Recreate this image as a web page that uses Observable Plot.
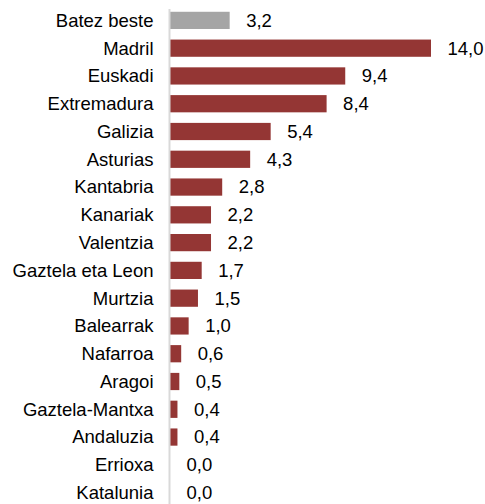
<!DOCTYPE html>
<html>
<head>
<meta charset="utf-8">
<script src="https://cdn.jsdelivr.net/npm/d3@7"></script>
<script src="https://cdn.jsdelivr.net/npm/@observablehq/plot@0.6"></script>
<style>
  html, body { margin: 0; padding: 0; background: #fff; }
  #chart svg { display: block; }
</style>
</head>
<body>
<div id="chart"></div>
<script>
const categories = ["Batez beste", "Madril", "Euskadi", "Extremadura", "Galizia", "Asturias", "Kantabria", "Kanariak", "Valentzia", "Gaztela eta Leon", "Murtzia", "Balearrak", "Nafarroa", "Aragoi", "Gaztela-Mantxa", "Andaluzia", "Errioxa", "Katalunia"];
const values = [3.2, 14.0, 9.4, 8.4, 5.4, 4.3, 2.8, 2.2, 2.2, 1.7, 1.5, 1.0, 0.6, 0.5, 0.4, 0.4, 0.0, 0.0];
const highlight = ["Batez beste"];

const data = categories.map((c, i) => ({ category: c, value: values[i], avg: highlight.includes(c) }));
const fmt = v => v.toFixed(1).replace(".", ",");

const chart = Plot.plot({
  width: 485,
  height: 504,
  marginLeft: 170,
  marginRight: 54,
  marginTop: 9,
  marginBottom: 0,
  style: { fontFamily: "'Liberation Sans', Arial, sans-serif", fontSize: "18.5px", color: "#000", background: "#fff" },
  x: { domain: [0, 14], axis: null },
  y: { domain: categories, paddingInner: 0.38, paddingOuter: 0.1, round: false, label: null },
  marks: [
    Plot.barX(data, { y: "category", x: "value", fill: d => d.avg ? "#a5a5a5" : "#943634" }),
    Plot.ruleX([0], { stroke: "#d9d9d9", strokeWidth: 2, dx: -1 }),
    Plot.text(data, { y: "category", x: "value", text: d => fmt(d.value), textAnchor: "start", dx: 16, fill: "#000", fontSize: 18.5 }),
    Plot.axisY({ tickSize: 0, tickPadding: 17, fontSize: 18.5, fill: "#000", label: null })
  ]
});
document.getElementById("chart").appendChild(chart);
</script>
</body>
</html>
